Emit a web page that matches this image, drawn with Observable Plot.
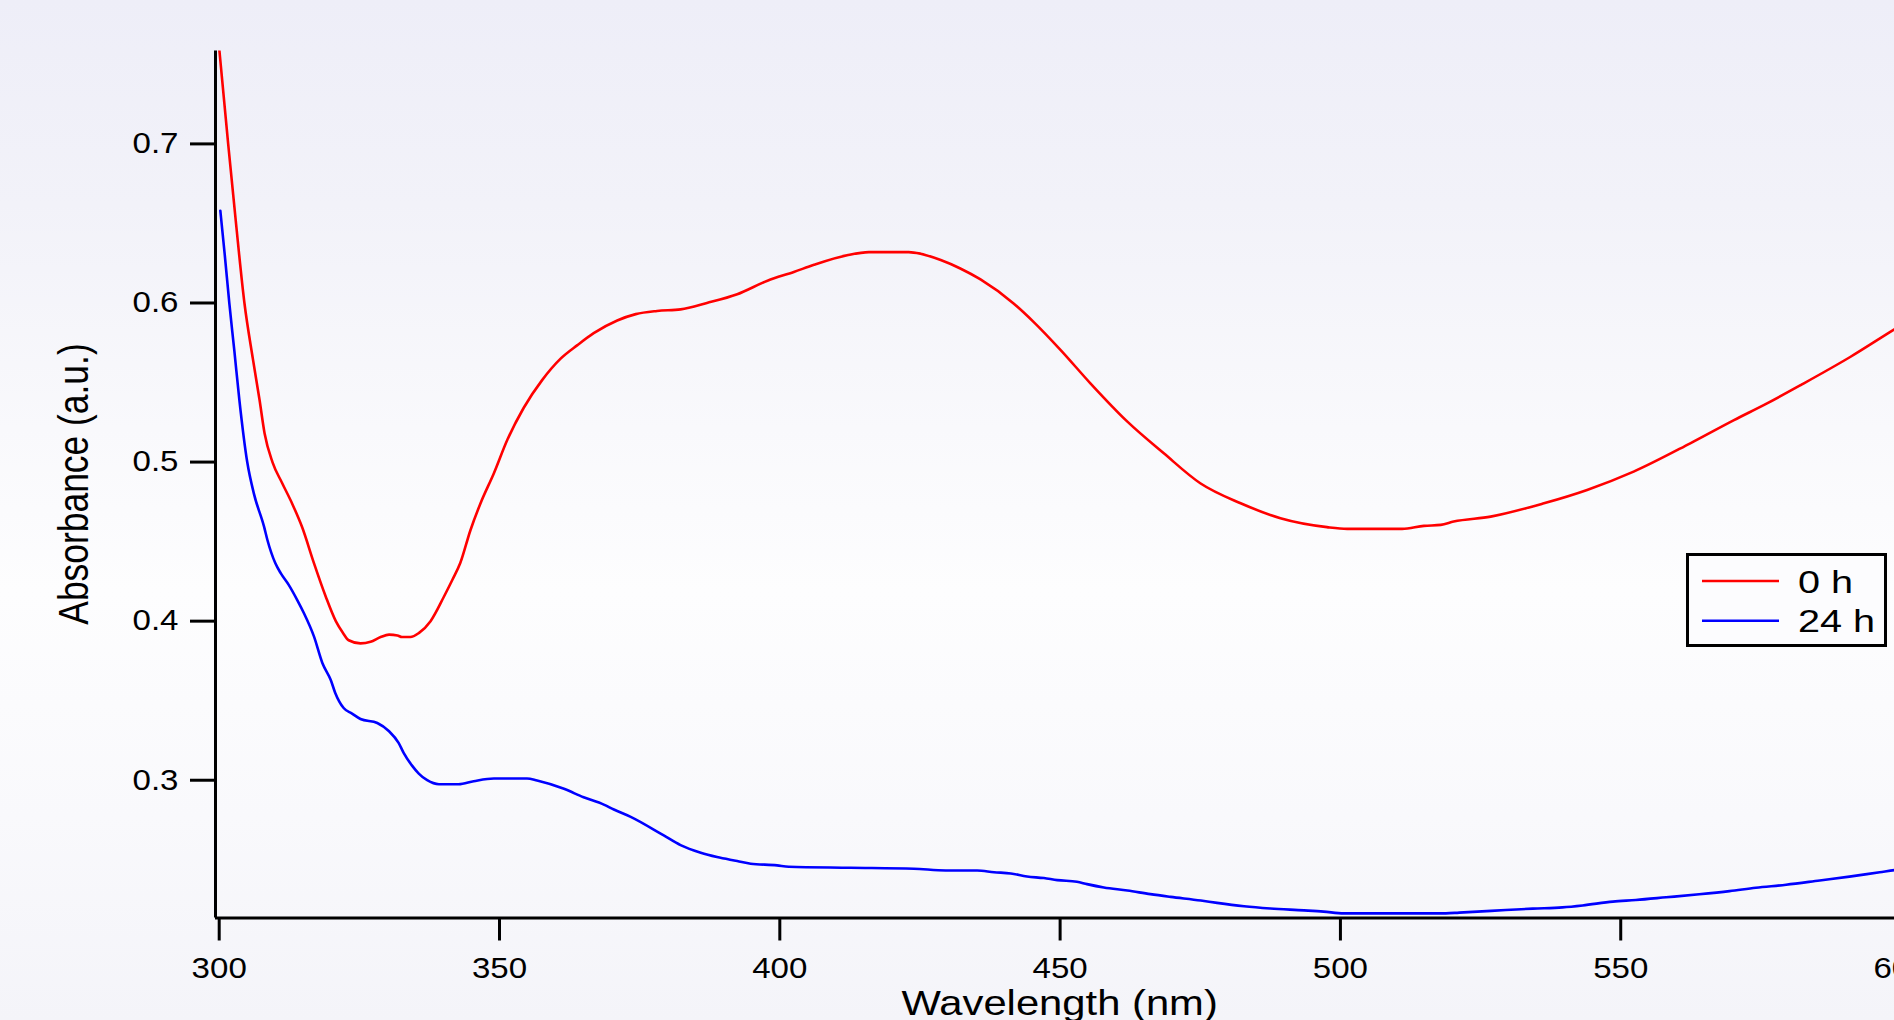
<!DOCTYPE html>
<html><head><meta charset="utf-8">
<script src="https://cdn.jsdelivr.net/npm/d3@7"></script>
<script src="https://cdn.jsdelivr.net/npm/@observablehq/plot@0.6"></script>
<style>
html,body{margin:0;padding:0;overflow:hidden;width:1894px;height:1020px;}
body{background:linear-gradient(to bottom,#eeeef8 0%,#f2f2f9 20%,#f9f9fc 42%,#fdfdfe 58%,#f9f9fc 80%,#f4f4f9 100%);font-family:"Liberation Sans",Arial,sans-serif;}
#chart{position:absolute;left:0;top:0;width:1960px;height:1020px;}
#chart svg{max-width:none !important;width:1960px !important;height:1020px !important;}
#legend{position:absolute;left:1686px;top:553px;width:195px;height:88px;border:3px solid #000;background:#fcfcfe;}
</style></head><body>
<div id="chart"></div>
<div id="legend"></div>
<script>
const series = ["0 h", "24 h"];
const colors = ["#ff0000", "#0000ff"];

const wl0 = [300.0,301.6,303.0,304.5,306.0,307.2,308.1,309.5,311.2,313.0,314.8,316.9,319.0,320.8,322.0,323.1,325.2,327.0,328.8,330.3,331.8,332.6,334.1,335.6,337.7,340.1,341.6,343.0,344.8,346.6,349.0,351.4,354.3,357.6,360.9,363.9,366.8,371.0,374.3,378.1,382.3,387.0,392.4,397.8,402.5,406.1,412.0,415.9,423.0,425.1,428.7,432.2,435.8,441.7,445.3,450.1,455.4,462.0,468.5,475.0,482.2,489.3,497.6,501.2,511.0,514.9,517.9,520.2,526.8,536.3,544.0,552.3,562.4,570.2,576.1,582.1,591.0,598.8,600.0];
const abs0 = [0.760,0.700,0.650,0.600,0.565,0.539,0.518,0.500,0.487,0.474,0.459,0.4365,0.4155,0.400,0.393,0.388,0.386,0.387,0.390,0.3915,0.391,0.390,0.390,0.3925,0.400,0.4155,0.426,0.4365,0.457,0.474,0.493,0.514,0.534,0.5515,0.565,0.5735,0.581,0.589,0.593,0.595,0.596,0.600,0.6055,0.614,0.6195,0.624,0.630,0.632,0.632,0.631,0.627,0.6217,0.6148,0.5997,0.588,0.5704,0.5495,0.5254,0.5055,0.4867,0.4741,0.4647,0.4591,0.458,0.458,0.4599,0.4605,0.4626,0.4657,0.4741,0.4825,0.494,0.5118,0.5264,0.5369,0.5484,0.5662,0.5834,0.586];

const wl24 = [300.2,301.0,301.8,302.7,303.6,305.0,306.2,308.0,308.6,310.0,311.0,312.4,313.9,315.1,316.9,318.4,319.9,320.7,322.2,323.7,325.2,328.2,330.3,332.0,332.9,334.4,335.6,337.1,339.2,342.7,345.4,349.0,354.9,356.7,361.5,365.0,368.6,370.4,373.4,379.3,382.3,385.9,388.8,392.4,394.8,399.5,401.6,412.6,423.9,429.6,435.2,438.2,441.2,444.1,447.1,449.5,453.0,454.8,457.8,462.0,466.1,469.7,475.1,478.0,482.8,487.5,493.5,497.0,500.6,518.8,521.2,529.5,534.3,539.6,543.2,548.6,552.7,558.1,564.0,569.4,574.1,579.5,585.5,590.8,596.2,598.8,600.0];
const abs24 = [0.658,0.630,0.600,0.570,0.539,0.500,0.480,0.4594,0.451,0.4365,0.430,0.4228,0.4134,0.4051,0.3904,0.3737,0.363,0.3549,0.3454,0.3419,0.3385,0.336,0.3308,0.3235,0.3172,0.3092,0.3042,0.300,0.2975,0.2975,0.2994,0.3011,0.3011,0.2998,0.2946,0.2893,0.2847,0.2816,0.277,0.2653,0.2592,0.2544,0.2517,0.2492,0.2475,0.2465,0.2456,0.245,0.2444,0.2433,0.2433,0.2422,0.2414,0.2395,0.2385,0.2372,0.2362,0.2347,0.2326,0.2307,0.2284,0.2267,0.2244,0.2229,0.2208,0.2194,0.2182,0.2174,0.2163,0.2163,0.2168,0.2184,0.2193,0.2201,0.2213,0.2237,0.2247,0.2264,0.2283,0.2303,0.2324,0.2343,0.237,0.2394,0.2422,0.2435,0.2442];

const xTicks = [300, 350, 400, 450, 500, 550, 600];
const yTicks = [0.3, 0.4, 0.5, 0.6, 0.7];
const xDomain = [299.34, 610];
const yDomain = [0.2134, 0.7584];
const xLabel = "Wavelength (nm)";
const yLabel = "Absorbance (a.u.)";

const data = [];
wl0.forEach((w, i) => data.push({series: series[0], wl: w, a: abs0[i]}));
wl24.forEach((w, i) => data.push({series: series[1], wl: w, a: abs24[i]}));

const FONT = "Liberation Sans, Arial, Helvetica, sans-serif";

const plot = Plot.plot({
  width: 1960, height: 1020,
  marginLeft: 215, marginRight: 3.4, marginTop: 50.5, marginBottom: 102.5,
  style: {background: "transparent", fontFamily: FONT, color: "#000", overflow: "visible", maxWidth: "none"},
  x: {domain: xDomain, axis: null},
  y: {domain: yDomain, axis: null},
  color: {domain: series, range: colors},
  marks: [
    Plot.line(data, {x: "wl", y: "a", z: "series", stroke: "series", strokeWidth: 2.6, curve: "monotone-x", clip: true}),
    Plot.ruleX([xDomain[0]], {y1: yDomain[0], y2: yDomain[1], stroke: "#000", strokeWidth: 3}),
    Plot.ruleY([yDomain[0]], {stroke: "#000", strokeWidth: 3}),
    Plot.axisX({ticks: xTicks, tickSize: 23, tickPadding: 16, strokeWidth: 3, fontSize: 29, tickFormat: d => String(d), label: null, stroke: "#000", fill: "#000"}),
    Plot.axisY({ticks: yTicks, tickSize: 25, tickPadding: 12, strokeWidth: 3, fontSize: 29, tickFormat: d => d.toFixed(1), label: null, stroke: "#000", fill: "#000"})
  ]
});
document.getElementById("chart").append(plot);

function stretch(el, f) {
  const L = el.getComputedTextLength();
  el.setAttribute("textLength", L * f);
  el.setAttribute("lengthAdjust", "spacingAndGlyphs");
}
const svg = d3.select(plot);
svg.selectAll("text").each(function() { stretch(this, 1.14); });

const xs = plot.scale("x"), ys = plot.scale("y");
const xMid = (xs.apply(xTicks[0]) + xs.apply(xTicks[xTicks.length - 1])) / 2;
const yMid = (ys.apply(yDomain[0]) + ys.apply(yDomain[1])) / 2;

const xl = svg.append("text")
  .attr("x", xMid).attr("y", 1015)
  .attr("text-anchor", "middle")
  .attr("font-family", FONT).attr("font-size", 35.4).attr("fill", "#000")
  .text(xLabel);
stretch(xl.node(), 1.18);

svg.append("text")
  .attr("transform", `translate(88,${yMid}) rotate(-90) scale(1,1.2)`)
  .attr("text-anchor", "middle")
  .attr("font-family", FONT).attr("font-size", 35.4).attr("fill", "#000")
  .text(yLabel);

// legend
const leg = d3.select("#legend").append("svg").attr("width", 195).attr("height", 88)
  .style("display", "block");
series.forEach((s, i) => {
  const y = 25 + i * 39.7;
  leg.append("line").attr("x1", 13).attr("x2", 90).attr("y1", y).attr("y2", y)
    .attr("stroke", colors[i]).attr("stroke-width", 2.6);
  const t = leg.append("text").attr("x", 109).attr("y", y + 11.7)
    .attr("font-family", FONT).attr("font-size", 31.7).attr("fill", "#000").text(s);
  stretch(t.node(), 1.25);
});
</script>
</body></html>
